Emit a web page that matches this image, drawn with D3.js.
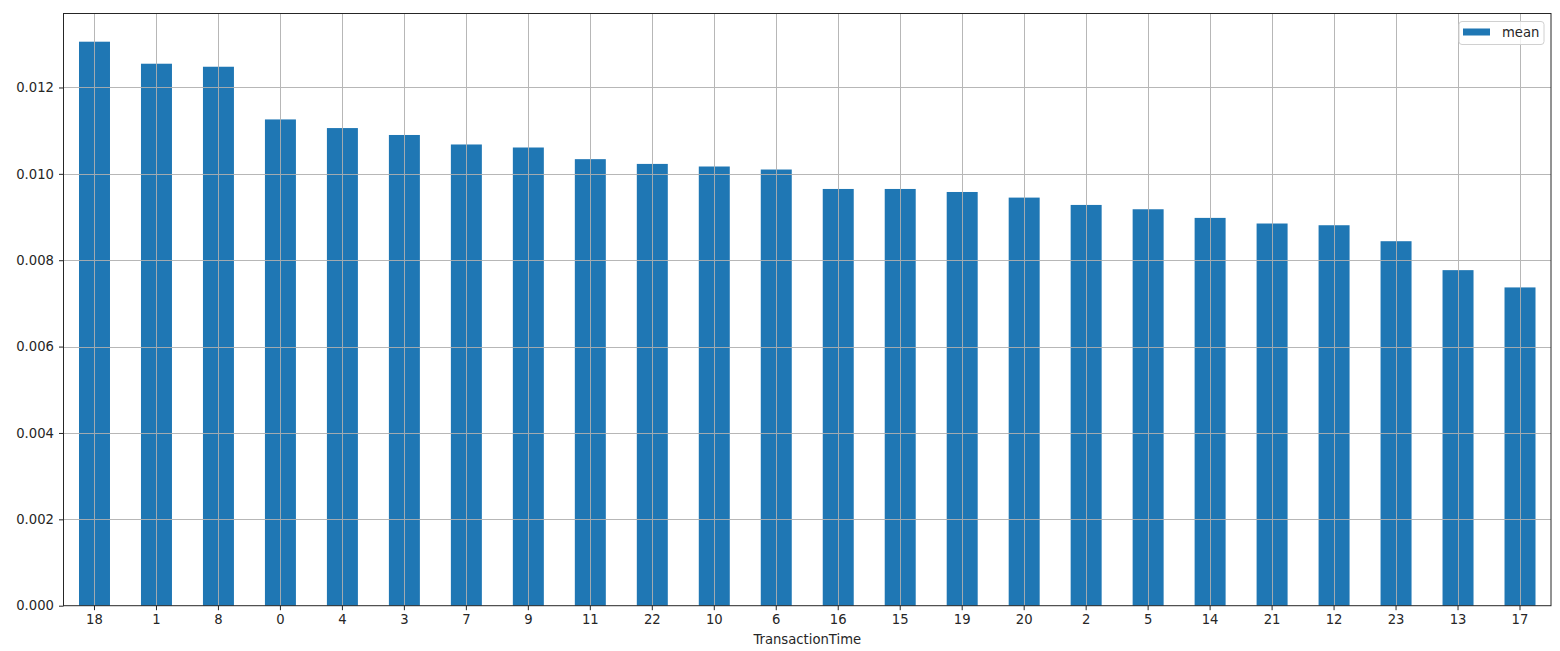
<!DOCTYPE html>
<html>
<head>
<meta charset="utf-8">
<script src="https://cdn.jsdelivr.net/npm/d3@7"></script>
<style>
  html, body { margin: 0; padding: 0; background: #fff; }
  svg { display: block; }
  text { font-family: "DejaVu Sans", sans-serif; fill: #262626; }
</style>
</head>
<body>
<svg id="chart" width="1560" height="651"></svg>
<script>
const categories = ["18","1","8","0","4","3","7","9","11","22","10","6","16","15","19","20","2","5","14","21","12","23","13","17"];
const meanValues = [0.01306,0.01255,0.01248,0.01126,0.01106,0.01090,0.01068,0.01061,0.01034,0.01023,0.01017,0.01010,0.00965,0.00965,0.00958,0.00945,0.00928,0.00918,0.00898,0.00885,0.00881,0.00844,0.00777,0.00737];
const yTicks = [0, 0.002, 0.004, 0.006, 0.008, 0.010, 0.012];
const seriesName = "mean";
const xLabel = "TransactionTime";

const svg = d3.select("#chart");
const margin = {left: 63.5, right: 1551, top: 13.5, bottom: 605.7};
const fontSize = 13.2;

const x = d3.scaleBand()
  .domain(categories)
  .range([margin.left, margin.right])
  .paddingInner(0.5)
  .paddingOuter(0.25);

const yMax = d3.max(meanValues) * 1.05;
const y = d3.scaleLinear().domain([0, yMax]).range([margin.bottom, margin.top]);

// bars
svg.append("g").selectAll("rect")
  .data(meanValues)
  .join("rect")
  .attr("x", (d, i) => x(categories[i]))
  .attr("y", d => y(d))
  .attr("width", x.bandwidth())
  .attr("height", d => y(0) - y(d))
  .attr("fill", "#1f77b4");

// grid (drawn above bars, as in reference)
const grid = svg.append("g").attr("stroke", "#b0b0b0").attr("stroke-width", 1).attr("opacity", 0.9);
grid.selectAll("line.v")
  .data(categories)
  .join("line")
  .attr("x1", d => Math.round(x(d) + x.bandwidth() / 2) + 0.5)
  .attr("x2", d => Math.round(x(d) + x.bandwidth() / 2) + 0.5)
  .attr("y1", margin.top)
  .attr("y2", margin.bottom);
grid.selectAll("line.h")
  .data(yTicks.slice(1))
  .join("line")
  .attr("x1", margin.left)
  .attr("x2", margin.right)
  .attr("y1", d => Math.round(y(d)) + 0.5)
  .attr("y2", d => Math.round(y(d)) + 0.5);

// axes
const xAxis = d3.axisBottom(x).tickSize(4.5).tickPadding(4);
const gx = svg.append("g").attr("transform", `translate(0,${margin.bottom})`).call(xAxis);
gx.select(".domain").remove();
gx.selectAll("line").attr("stroke", "#262626");
gx.selectAll("text").attr("font-size", fontSize).attr("font-family", "DejaVu Sans").attr("fill", "#262626");

const yAxis = d3.axisLeft(y).tickValues(yTicks).tickFormat(d3.format(".3f")).tickSize(4.5).tickPadding(5);
const gy = svg.append("g").attr("transform", `translate(${margin.left},0)`).call(yAxis);
gy.select(".domain").remove();
gy.selectAll("line").attr("stroke", "#262626");
gy.selectAll("text").attr("font-size", fontSize).attr("font-family", "DejaVu Sans").attr("fill", "#262626");

// frame
svg.append("rect")
  .attr("x", margin.left).attr("y", margin.top)
  .attr("width", margin.right - margin.left)
  .attr("height", margin.bottom - margin.top)
  .attr("fill", "none").attr("stroke", "#262626").attr("stroke-width", 1);

// x label
svg.append("text")
  .attr("x", (margin.left + margin.right) / 2)
  .attr("y", 643.5)
  .attr("text-anchor", "middle")
  .attr("font-size", fontSize)
  .text(xLabel);

// legend
const lg = svg.append("g");
lg.append("rect")
  .attr("x", 1459).attr("y", 21.5).attr("width", 85).attr("height", 23)
  .attr("rx", 3).attr("fill", "#fff").attr("fill-opacity", 0.8)
  .attr("stroke", "#d0d0d0").attr("stroke-width", 1);
lg.append("rect")
  .attr("x", 1463).attr("y", 28.5).attr("width", 27).attr("height", 7)
  .attr("fill", "#1f77b4");
lg.append("text")
  .attr("x", 1502).attr("y", 37)
  .attr("font-size", fontSize)
  .text(seriesName);
</script>
</body>
</html>
